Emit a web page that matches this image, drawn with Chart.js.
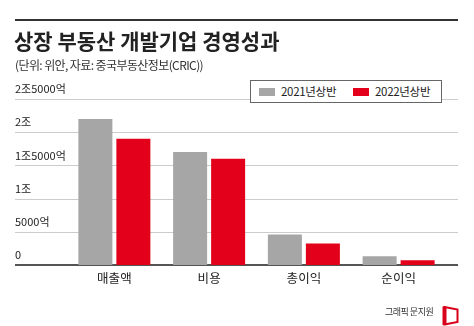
<!DOCTYPE html>
<html>
<head>
<meta charset="utf-8">
<script src="https://cdn.jsdelivr.net/npm/chart.js@4"></script>
<style>
    body { margin: 0; background: #fff; font-family: "Noto Sans CJK KR", sans-serif; }
    #wrap { position: relative; width: 474px; height: 326px; overflow: hidden; }
    #rule { position: absolute; left: 15px; top: 19px; width: 443px; height: 2px; background: #333; }
    #title { position: absolute; left: 14px; top: 25px; font-size: 21px; font-weight: bold; color: #222; letter-spacing: 0px; white-space: nowrap; }
    #subtitle { position: absolute; left: 15px; top: 56px; font-size: 12px; color: #333; letter-spacing: -0.6px; white-space: nowrap; }
    #chart { position: absolute; left: 0; top: 0; }
    #legend { position: absolute; left: 250px; top: 80px; width: 190px; height: 21px; border: 1px solid #666; background: #fff; font-size: 11.5px; color: #222; letter-spacing: -0.3px; }
    .item { position: absolute; top: 2px; line-height: 17px; white-space: nowrap; }
    .sw { display: inline-block; width: 16px; height: 8px; margin-right: 6px; vertical-align: 0px; }
    #credit { position: absolute; left: 385px; top: 305px; font-size: 9px; color: #333; letter-spacing: -0.5px; white-space: nowrap; }
    #logo { position: absolute; left: 442px; top: 305px; }
</style>
</head>
<body>
<div id="wrap">
    <canvas id="chart" width="474" height="326"></canvas>
    <div id="rule"></div>
    <div id="title">상장 부동산 개발기업 경영성과</div>
    <div id="subtitle">(단위: 위안, 자료: 중국부동산정보(CRIC))</div>
    <div id="legend">
        <span class="item" style="left: 8px;"><span class="sw" style="background:#a6a6a6"></span>2021년상반</span>
        <span class="item" style="left: 102px;"><span class="sw" style="background:#e2001a"></span>2022년상반</span>
    </div>
    <div id="credit">그래픽 문지원</div>
    <svg id="logo" width="18" height="21" viewBox="0 0 18 21">
        <polygon points="2.5,2 15.5,4.5 15.5,17 2.5,19.5" fill="none" stroke="#d9001b" stroke-width="2"/>
        <line x1="2.5" y1="1.5" x2="2.5" y2="20" stroke="#d9001b" stroke-width="4"/>
    </svg>
</div>
<script>
// 단위: 억 위안
const categories = ["매출액", "비용", "총이익", "순이익"];
const h1_2021 = [22000, 17000, 4600, 1300];
const h1_2022 = [19000, 16000, 3250, 700];
const yTickLabels = ["0", "5000억", "1조", "1조5000억", "2조", "2조5000억"];

// grid lines run under the tick labels, from the left edge of the y axis to past the plot
const wideGrid = {
    id: "wideGrid",
    beforeDatasetsDraw(chart) {
        const y = chart.scales.y;
        const c = chart.ctx;
        const x1 = y.left;
        const x2 = chart.width - 16;
        c.save();
        for (const t of y.ticks) {
            const py = Math.round(y.getPixelForValue(t.value));
            if (t.value === 0) {
                c.fillStyle = "#555";
                c.fillRect(x1, py - 1, x2 - x1, 2);
            } else {
                c.fillStyle = "#cccccc";
                c.fillRect(x1, py, x2 - x1, 1);
            }
        }
        c.restore();
    }
};

const ctx = document.getElementById("chart").getContext("2d");
const chart = new Chart(ctx, {
    type: "bar",
    data: {
        labels: categories,
        datasets: [
            { label: "2021년상반", data: h1_2021, backgroundColor: "#a6a6a6" },
            { label: "2022년상반", data: h1_2022, backgroundColor: "#e2001a" }
        ]
    },
    options: {
        responsive: false,
        animation: false,
        events: [],
        layout: { padding: { left: 15, right: 28, top: 99, bottom: 31 } },
        datasets: { bar: { categoryPercentage: 0.802, barPercentage: 0.895 } },
        plugins: { legend: { display: false }, tooltip: { enabled: false } },
        scales: {
            x: {
                grid: { display: false, drawTicks: false },
                border: { display: false },
                ticks: {
                    padding: 6,
                    color: "#222",
                    font: { family: "Noto Sans CJK KR", size: 12.5 }
                },
                afterFit: (scale) => { scale.height = 30; }
            },
            y: {
                min: 0,
                max: 25000,
                border: { display: false },
                grid: { display: false },
                ticks: {
                    stepSize: 5000,
                    crossAlign: "far",
                    labelOffset: -10,
                    padding: 0,
                    color: "#222",
                    font: { family: "Noto Sans CJK KR", size: 11 },
                    callback: (v, i) => yTickLabels[i]
                },
                afterFit: (scale) => { scale.width = 52; }
            }
        }
    },
    plugins: [wideGrid]
});
</script>
</body>
</html>
